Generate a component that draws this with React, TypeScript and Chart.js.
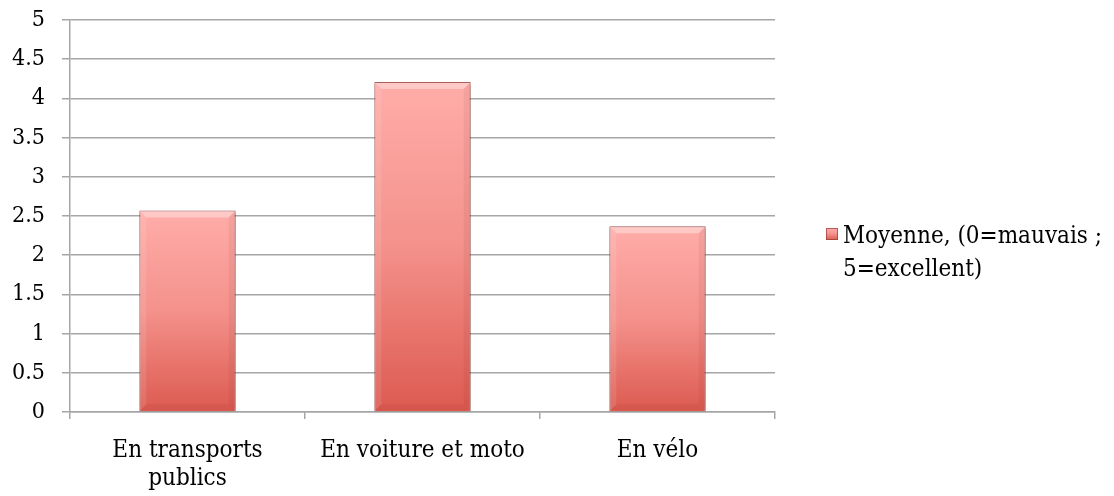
import React, { useEffect, useRef } from "react";
import { Chart, registerables } from "chart.js";

Chart.register(...registerables);

const categories: (string | string[])[] = [["En transports", "publics"], "En voiture et moto", "En vélo"];
const seriesLabel = ["Moyenne, (0=mauvais ;", "5=excellent)"];
const seriesValues = [2.57, 4.21, 2.37];
const yTicks = [0, 0.5, 1, 1.5, 2, 2.5, 3, 3.5, 4, 4.5, 5];

const FONT = "'DejaVu Serif Condensed', 'Liberation Serif', serif";

function barGradient(ctx: CanvasRenderingContext2D, top: number, bottom: number) {
  const g = ctx.createLinearGradient(0, top, 0, bottom);
  g.addColorStop(0, "#FFADA9");
  g.addColorStop(0.5, "#F4918B");
  g.addColorStop(1, "#DC5A50");
  return g;
}

const bevelPlugin = {
  id: "bevel",
  beforeDatasetDraw(chart: any) {
    const ctx = chart.ctx;
    ctx.save();
    ctx.shadowColor = "rgba(0,0,0,0.35)";
    ctx.shadowBlur = 4;
    ctx.shadowOffsetX = 1;
    ctx.shadowOffsetY = 1;
  },
  afterDatasetDraw(chart: any) {
    const ctx = chart.ctx;
    ctx.restore();
    const meta = chart.getDatasetMeta(0);
    meta.data.forEach((bar: any) => {
      const { x, y, base, width } = bar.getProps(["x", "y", "base", "width"], true);
      const l = x - width / 2;
      const r = x + width / 2;
      const b = 6;
      ctx.save();
      ctx.fillStyle = "rgba(255,255,255,0.35)";
      ctx.beginPath();
      ctx.moveTo(l + 1, y + 1);
      ctx.lineTo(r - 1, y + 1);
      ctx.lineTo(r - 1 - b, y + 1 + b);
      ctx.lineTo(l + 1 + b, y + 1 + b);
      ctx.closePath();
      ctx.fill();
      ctx.fillStyle = "rgba(255,255,255,0.10)";
      ctx.beginPath();
      ctx.moveTo(l + 1, y + 1);
      ctx.lineTo(l + 1 + b, y + 1 + b);
      ctx.lineTo(l + 1 + b, base - 1 - b);
      ctx.lineTo(l + 1, base - 1);
      ctx.closePath();
      ctx.fill();
      ctx.fillStyle = "rgba(120,30,25,0.07)";
      ctx.beginPath();
      ctx.moveTo(r - 1, y + 1);
      ctx.lineTo(r - 1 - b, y + 1 + b);
      ctx.lineTo(r - 1 - b, base - 1 - b);
      ctx.lineTo(r - 1, base - 1);
      ctx.closePath();
      ctx.fill();
      ctx.fillStyle = "rgba(120,30,25,0.07)";
      ctx.beginPath();
      ctx.moveTo(l + 1, base - 1);
      ctx.lineTo(l + 1 + b, base - 1 - b);
      ctx.lineTo(r - 1 - b, base - 1 - b);
      ctx.lineTo(r - 1, base - 1);
      ctx.closePath();
      ctx.fill();
      ctx.restore();
    });
  },
};

const legendPlugin = {
  id: "customLegend",
  afterDraw(chart: any) {
    const ctx = chart.ctx;
    const mx = 826;
    const my = 228;
    ctx.save();
    ctx.fillStyle = barGradient(ctx, my, my + 12);
    ctx.fillRect(mx, my, 12, 12);
    ctx.strokeStyle = "rgba(150,60,55,0.7)";
    ctx.lineWidth = 1;
    ctx.strokeRect(mx + 0.5, my + 0.5, 11, 11);
    ctx.fillStyle = "#000";
    ctx.font = `24px ${FONT}`;
    ctx.textBaseline = "middle";
    ctx.textAlign = "left";
    seriesLabel.forEach((t, i) => ctx.fillText(t, 843, 237 + i * 33));
    ctx.restore();
  },
};

export default function App() {
  const ref = useRef<HTMLCanvasElement>(null);
  useEffect(() => {
    document.body.style.margin = "0";
    const chart = new Chart(ref.current!, {
      type: "bar",
      data: {
        labels: categories,
        datasets: [
          {
            label: seriesLabel.join(" "),
            data: seriesValues,
            backgroundColor: (c: any) => {
              const chart = c.chart;
              const ys = chart.scales?.y;
              if (!ys || c.parsed == null) return "#F4918B";
              const top = ys.getPixelForValue(c.parsed.y);
              const bottom = ys.getPixelForValue(0);
              if (!isFinite(top) || !isFinite(bottom)) return "#F4918B";
              return barGradient(chart.ctx, top, bottom);
            },
            borderColor: "rgba(170,70,62,0.8)",
            borderWidth: 1,
            categoryPercentage: 0.41,
            barPercentage: 1,
          },
        ],
      },
      options: {
        animation: false,
        responsive: false,
        maintainAspectRatio: false,
        layout: { padding: { left: 0, top: 20, right: 339, bottom: 0 } },
        plugins: {
          legend: { display: false },
          tooltip: { enabled: false },
        },
        scales: {
          x: {
            grid: {
              offset: true,
              drawOnChartArea: false,
              drawTicks: true,
              tickLength: 7,
              color: "#A6A6A6",
              lineWidth: 1.5,
            },
            border: { color: "#A6A6A6", width: 1.5 },
            ticks: {
              color: "#000",
              font: { family: FONT, size: 24, lineHeight: 1.2 },
              padding: 17,
              maxRotation: 0,
              autoSkip: false,
            },
            afterFit: (s: any) => {
              s.height = 84;
              s.paddingLeft = 0;
              s.paddingRight = 0;
            },
          },
          y: {
            min: 0,
            max: 5,
            afterBuildTicks: (s: any) => {
              s.ticks = yTicks.map((v) => ({ value: v }));
            },
            grid: {
              color: "#A6A6A6",
              lineWidth: 1.5,
              tickLength: 8,
            },
            border: { color: "#A6A6A6", width: 1.5 },
            ticks: {
              color: "#000",
              font: { family: FONT, size: 23 },
              padding: 17,
              callback: (v: any) => String(v),
            },
            afterFit: (s: any) => {
              s.width = 70;
              s.paddingTop = 0;
              s.paddingBottom = 0;
            },
          },
        },
      },
      plugins: [bevelPlugin, legendPlugin],
    });
    return () => chart.destroy();
  }, []);
  return <canvas ref={ref} width={1114} height={496} style={{ display: "block" }} />;
}
